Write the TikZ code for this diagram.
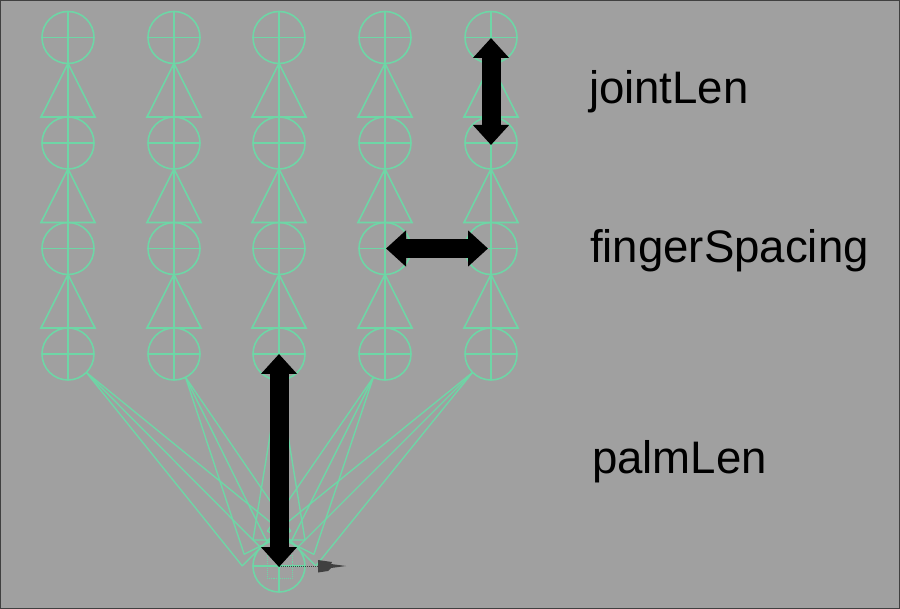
\documentclass[tikz,border=0pt]{standalone}
\usepackage{fontspec}
\setmainfont{Liberation Sans}
\usetikzlibrary{arrows.meta,calc}
\definecolor{bggray}{HTML}{A0A0A0}
\definecolor{bonegreen}{HTML}{6ED6A6}
\definecolor{edgegray}{HTML}{404040}
\tikzset{
  joint/.style={circle,draw=bonegreen,line width=1.6pt,minimum size=52pt,inner sep=0pt,outer sep=0pt},
  bone/.style={draw=bonegreen,line width=1.6pt},
  thinbone/.style={draw=bonegreen,line width=1.4pt},
  bigarrow/.style={line width=19pt,black,{Triangle[length=20pt,width=35pt]}-{Triangle[length=20pt,width=35pt]}},
  labeltext/.style={anchor=base west,inner sep=0pt,outer sep=0pt,font=\fontsize{45.6pt}{50pt}\selectfont,text=black}
}
\begin{document}
\begin{tikzpicture}[x=1pt,y=-1pt]
\useasboundingbox (0,0) rectangle (900,609);
\fill[bggray] (0,0) rectangle (900,609);
\draw[edgegray,line width=1.5pt] (0,0) rectangle (900,609);
% joints
\foreach \f/\x in {1/68,2/174,3/279,4/385,5/491}{
  \foreach \r/\y in {1/37.5,2/143,3/248.5,4/354}{
    \node[joint] (j\f\r) at (\x,\y) {};
    \draw[bone] (j\f\r.west) -- (j\f\r.east);
    \draw[bone] (j\f\r.north) -- (j\f\r.south);
  }
  \foreach \r/\n in {1/2,2/3,3/4}{
    \draw[bone] (j\f\r.south) -- (j\f\n.center);
    \draw[bone] ($(j\f\n.north)+(-27,0)$) -- (j\f\r.south) -- ($(j\f\n.north)+(27,0)$) -- cycle;
  }
}
% root
\node[joint] (root) at (279,566) {};
\draw[bone] (root.west) -- (root.east);
\draw[bone] (root.north) -- (root.south);
% palm cones
\foreach \f in {1,2,3,4,5}{
  \coordinate (apex\f) at ($(j\f4)!26pt!(root)$);
  \coordinate (base\f) at ($(root)!26pt!(j\f4)$);
  \coordinate (cornerA\f) at ($(base\f)!26pt!90:(root)$);
  \coordinate (cornerB\f) at ($(base\f)!26pt!-90:(root)$);
  \draw[thinbone] (apex\f) -- (base\f);
  \draw[thinbone,line join=bevel] (cornerA\f) -- (apex\f) -- (cornerB\f) -- cycle;
}
% root manipulator
\coordinate (sqa) at (267,555);
\coordinate (sqb) at (292,578);
\draw[bonegreen,line width=0.9pt,densely dotted] (sqa) rectangle (sqb);
\coordinate (mstart) at (root.center);
\coordinate (mtip) at (318,566);
\draw[edgegray,line width=1pt,densely dotted] (mstart) -- (mtip);
\fill[edgegray] (318,560) -- (332,562) -- (331,564) -- (346,566) -- (331,568) -- (328,571) -- (318,572.5) -- cycle;
% dimension arrows
\coordinate (ja) at (491,38);
\coordinate (jb) at (491,145);
\draw[bigarrow] (ja) -- (jb);
\coordinate (sa) at (386,248.5);
\coordinate (sb) at (488,248.5);
\draw[bigarrow] (sa) -- (sb);
\coordinate (pa) at (279,354);
\coordinate (pb) at (279,567);
\draw[bigarrow] (pa) -- (pb);
% labels
\node[labeltext] (l1) at (589,104) {jointLen};
\node[labeltext] (l2) at (590,263) {fingerSpacing};
\node[labeltext] (l3) at (592,474) {palmLen};
\end{tikzpicture}
\end{document}
